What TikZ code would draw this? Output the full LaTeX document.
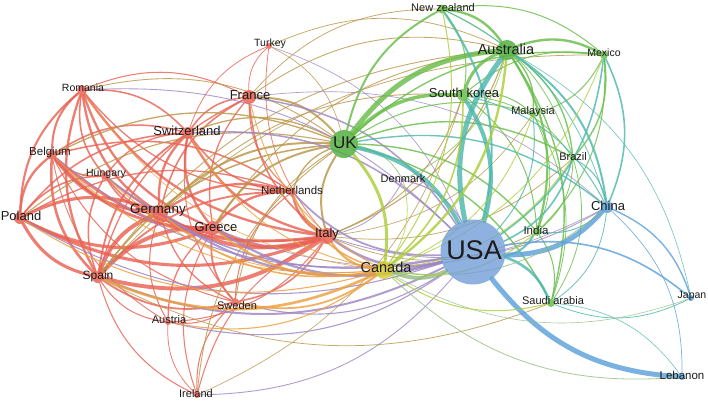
\documentclass[tikz,border=0pt]{standalone}
\usepackage{fontspec}
\setmainfont{Liberation Sans}
\usetikzlibrary{calc}
\pgfdeclarelayer{bgl}
\pgfdeclarelayer{edges}
\pgfsetlayers{bgl,edges,main}
\definecolor{cR}{RGB}{233,98,84}
\definecolor{cG}{RGB}{104,190,74}
\definecolor{cGd}{RGB}{84,176,64}
\definecolor{cB}{RGB}{92,160,218}
\definecolor{cBd}{RGB}{112,156,214}
\definecolor{cY}{RGB}{214,206,50}
\definecolor{cRG}{RGB}{186,150,72}
\definecolor{cRB}{RGB}{158,134,196}
\definecolor{cRY}{RGB}{236,160,62}
\definecolor{cGB}{RGB}{78,184,172}
\definecolor{cYB}{RGB}{150,190,130}
\definecolor{cYG}{RGB}{172,206,58}
\definecolor{txt}{RGB}{28,28,28}
\tikzset{
  vn/.style={circle, inner sep=0pt, draw=none, fill opacity=0.85},
  vl/.style={inner sep=0pt, text=txt},
  ed/.style={draw opacity=0.82, line cap=round},
}
\newcommand\vnode[5]{\node[vn, minimum size=#4pt, fill=#5] (#1) at (#2,#3) {};}
\newcommand\vlab[5]{\node[vl, font=\fontsize{#4}{#4}\selectfont] (#1) at (#2,#3) {#5};}
% #1 colour, #2 bend sign, #3 width factor, #4 list
\newcommand\edgeset[4]{%
  \foreach \a/\b/\w in {#4}{%
    \pgfmathsetmacro\lw{\w*#3}%
    \draw[ed, draw=#1, line width=\lw pt] let \p1=(\a), \p2=(\b),
      \n1={ifthenelse(((\x1-354)/100)*((\y2+208)/100)-((\y1+208)/100)*((\x2-354)/100)>0,-24*#2,24*#2)},
      \n2={180-\n1} in (\a) to[out=\n1,in=\n2,relative] (\b);
  }}
\begin{document}
\begin{tikzpicture}[x=1pt,y=-1pt]
\useasboundingbox (0,0) rectangle (708,417);
\begin{pgfonlayer}{bgl}
\fill[white] (0,0) rectangle (708,417);
\end{pgfonlayer}
% nodes
\node[vn, minimum size=65pt, fill=cBd, fill opacity=0.78] (usa) at (473,252) {};
\vnode{uk}{344}{144}{28}{cGd}
\vnode{aus}{507}{50}{20}{cGd}
\vnode{nz}{442}{9}{9}{cG}
\vnode{mex}{604}{55}{8}{cG}
\vnode{sk}{463}{95}{12}{cG}
\vnode{mal}{533}{114}{6}{cG}
\vnode{bra}{573}{158}{6}{cG}
\vnode{den}{403}{180}{4}{cRB}
\vnode{chi}{607}{207}{12}{cB}
\vnode{ind}{537}{232}{8}{cG}
\vnode{sau}{551}{303}{8}{cG}
\vnode{jap}{691}{298}{6}{cB}
\vnode{leb}{682}{377}{6}{cB}
\vnode{can}{384}{270}{18}{cY}
\vnode{ita}{327}{236}{16}{cR}
\vnode{net}{292}{192}{8}{cR}
\vnode{gre}{213}{228}{14}{cR}
\vnode{ger}{160}{213}{16}{cR}
\vnode{pol}{20}{218}{12}{cR}
\vnode{spa}{98}{277}{12}{cR}
\vnode{swe}{235}{302}{8}{cR}
\vnode{aut}{168}{322}{6}{cR}
\vnode{ire}{197}{395}{6}{cR}
\vnode{swi}{188}{133}{12}{cR}
\vnode{fra}{249}{97}{14}{cR}
\vnode{tur}{269}{46}{6}{cR}
\vnode{rom}{82}{90}{10}{cR}
\vnode{bel}{52}{155}{10}{cR}
\vnode{hun}{105}{176}{8}{cR}
% edges
\begin{pgfonlayer}{edges}
\edgeset{cR}{1}{1.3}{rom/bel/1.6, rom/pol/1.6, rom/hun/1.2, rom/ger/1.8, rom/gre/1.8, rom/spa/1.8, rom/swi/1.2, rom/ita/1.8, rom/net/1, rom/fra/0.8,
 bel/pol/1.8, bel/hun/1.2, bel/ger/2.2, bel/gre/2.2, bel/spa/2, bel/ita/2.2, bel/swi/1.2, bel/net/1.2, bel/swe/0.8, bel/aut/0.7,
 pol/hun/1.2, pol/ger/2.4, pol/gre/2.4, pol/spa/2.4, pol/ita/2.4, pol/swi/1.2, pol/net/1,
 hun/ger/1.2, hun/gre/1.2, hun/spa/1.2, hun/ita/1.2, hun/swi/1,
 ger/gre/3, ger/spa/3, ger/ita/3, ger/swi/1.8, ger/net/1.8, ger/fra/1.2, ger/swe/1, ger/aut/0.8,
 gre/spa/3, gre/ita/3, gre/swi/1.8, gre/net/1.8, gre/swe/1.4, gre/aut/1, gre/ire/0.8, gre/fra/1,
 spa/ita/3, spa/swe/1.4, spa/aut/0.8, spa/ire/0.8, spa/swi/1.4, spa/net/1.4,
 swi/fra/1.2, swi/ita/1.8, swi/net/1.2, swi/tur/0.6, swi/swe/0.8,
 fra/ita/1.2, fra/net/0.8, fra/tur/0.6, fra/spa/1,
 ita/swe/1.2, ita/aut/0.8, ita/ire/0.8, ita/net/1.8,
 swe/aut/0.8, swe/ire/0.8, aut/ire/0.6, net/swe/0.8, tur/ita/0.6}
\edgeset{cRG}{1}{1.1}{uk/fra/1.8, uk/swi/1.2, uk/ger/1.8, uk/gre/1.8, uk/ita/1.8, uk/spa/1.4, uk/net/1.2, uk/bel/1.2, uk/pol/1, uk/rom/0.8, uk/ire/0.8, uk/swe/0.8, uk/tur/0.6,
 aus/tur/0.7, aus/fra/0.8, aus/ita/1, aus/gre/0.8, aus/spa/0.8, sk/ita/0.8, sk/ger/0.8, nz/fra/0.7, sau/spa/0.7, bra/ita/0.7, ind/ita/0.7, mex/spa/0.7, ire/sk/0.6, mal/ita/0.6}
\edgeset{cRB}{1}{1.1}{usa/ita/2.4, usa/ger/2, usa/gre/2, usa/spa/1.8, usa/net/1.6, usa/swi/1.4, usa/fra/1.4, usa/pol/1, usa/bel/1, usa/hun/1.4, usa/rom/0.8, usa/swe/1, usa/aut/1, usa/ire/0.8, usa/tur/0.6, chi/ita/0.8, chi/gre/0.6, chi/fra/0.6, den/ita/0.7, den/usa/1}
\edgeset{cRY}{1}{1.1}{can/spa/2.4, can/ita/2, can/gre/1.8, can/ger/1.4, can/swe/1.6, can/net/1.4, can/pol/1, can/bel/0.8, can/swi/0.8, can/fra/0.8, can/aut/1, can/hun/0.8, can/rom/0.6}
\edgeset{cG}{1}{1}{uk/aus/5, uk/sk/3.5, uk/nz/2, uk/mex/1.4, uk/mal/1, uk/bra/1.4, uk/ind/1.4, uk/sau/1.4,
 aus/nz/2.4, aus/sk/3, aus/mex/2.4, aus/mal/1.4, aus/bra/1.4, aus/ind/2.2, aus/sau/1.4,
 nz/sk/1, nz/mex/1, nz/bra/0.8, sk/mal/1, sk/mex/1, sk/ind/1, sk/bra/0.8, mex/bra/1.4, mex/mal/1, mex/ind/1,
 bra/ind/0.8, ind/sau/1, mal/sau/0.8, bra/sau/0.8, mal/ind/0.8, den/aus/0.6, den/uk/0.6}
\edgeset{cGB}{1}{1}{usa/sk/4, usa/uk/4, usa/nz/2, usa/mex/1.6, usa/bra/1.6, usa/ind/2, usa/sau/2.6, usa/mal/1,
 chi/aus/2, chi/sk/1, chi/mex/1.6, chi/uk/1.4, chi/ind/1, chi/sau/0.8, chi/bra/1, chi/nz/0.8, jap/sau/0.8, jap/aus/0.6, leb/sau/0.6}
\edgeset{cGB}{-1}{1}{usa/aus/5}
\edgeset{cB}{1}{1}{usa/chi/5, chi/jap/1.4, chi/leb/0.7}
\edgeset{cB}{-1}{1}{usa/leb/5, usa/jap/1.6}
\edgeset{cYB}{1}{1}{usa/can/4, can/leb/0.8, can/chi/0.8, can/jap/0.6}
\edgeset{cYG}{1}{1}{can/uk/3, can/aus/2.4, can/sk/1.6, can/ind/1, can/sau/1, can/nz/1, can/mex/0.8, can/bra/0.8, can/mal/0.8, den/can/0.7}
\end{pgfonlayer}
% labels
\vlab{usaL}{474}{250}{27}{USA}
\vlab{ukL}{345}{143}{17}{UK}
\vlab{ausL}{506}{49}{14.5}{Australia}
\vlab{nzL}{443}{8}{11}{New zealand}
\vlab{mexL}{604}{53}{10.5}{Mexico}
\vlab{skL}{464}{93}{13}{South korea}
\vlab{malL}{533}{112}{11}{Malaysia}
\vlab{braL}{573}{157}{11}{Brazil}
\vlab{denL}{403}{179}{11}{Denmark}
\vlab{chiL}{608}{206}{13}{China}
\vlab{indL}{536}{230}{11.5}{India}
\vlab{sauL}{553}{301}{11}{Saudi arabia}
\vlab{japL}{692}{296}{10.5}{Japan}
\vlab{lebL}{682}{375}{11.5}{Lebanon}
\vlab{canL}{386}{267}{14.5}{Canada}
\vlab{itaL}{327}{234}{13}{Italy}
\vlab{netL}{292}{190}{11.5}{Netherlands}
\vlab{greL}{216}{227}{13}{Greece}
\vlab{gerL}{158}{210}{13.5}{Germany}
\vlab{polL}{21}{216}{13}{Poland}
\vlab{spaL}{98}{276}{12}{Spain}
\vlab{sweL}{237}{306}{11}{Sweden}
\vlab{autL}{169}{320}{11}{Austria}
\vlab{ireL}{196}{394}{11}{Ireland}
\vlab{swiL}{187}{131}{13}{Switzerland}
\vlab{fraL}{250}{95}{13}{France}
\vlab{turL}{270}{44}{10.5}{Turkey}
\vlab{romL}{83}{88}{10.5}{Romania}
\vlab{belL}{50}{153}{11.5}{Belgium}
\vlab{hunL}{106}{174}{10.5}{Hungary}
\end{tikzpicture}
\end{document}
